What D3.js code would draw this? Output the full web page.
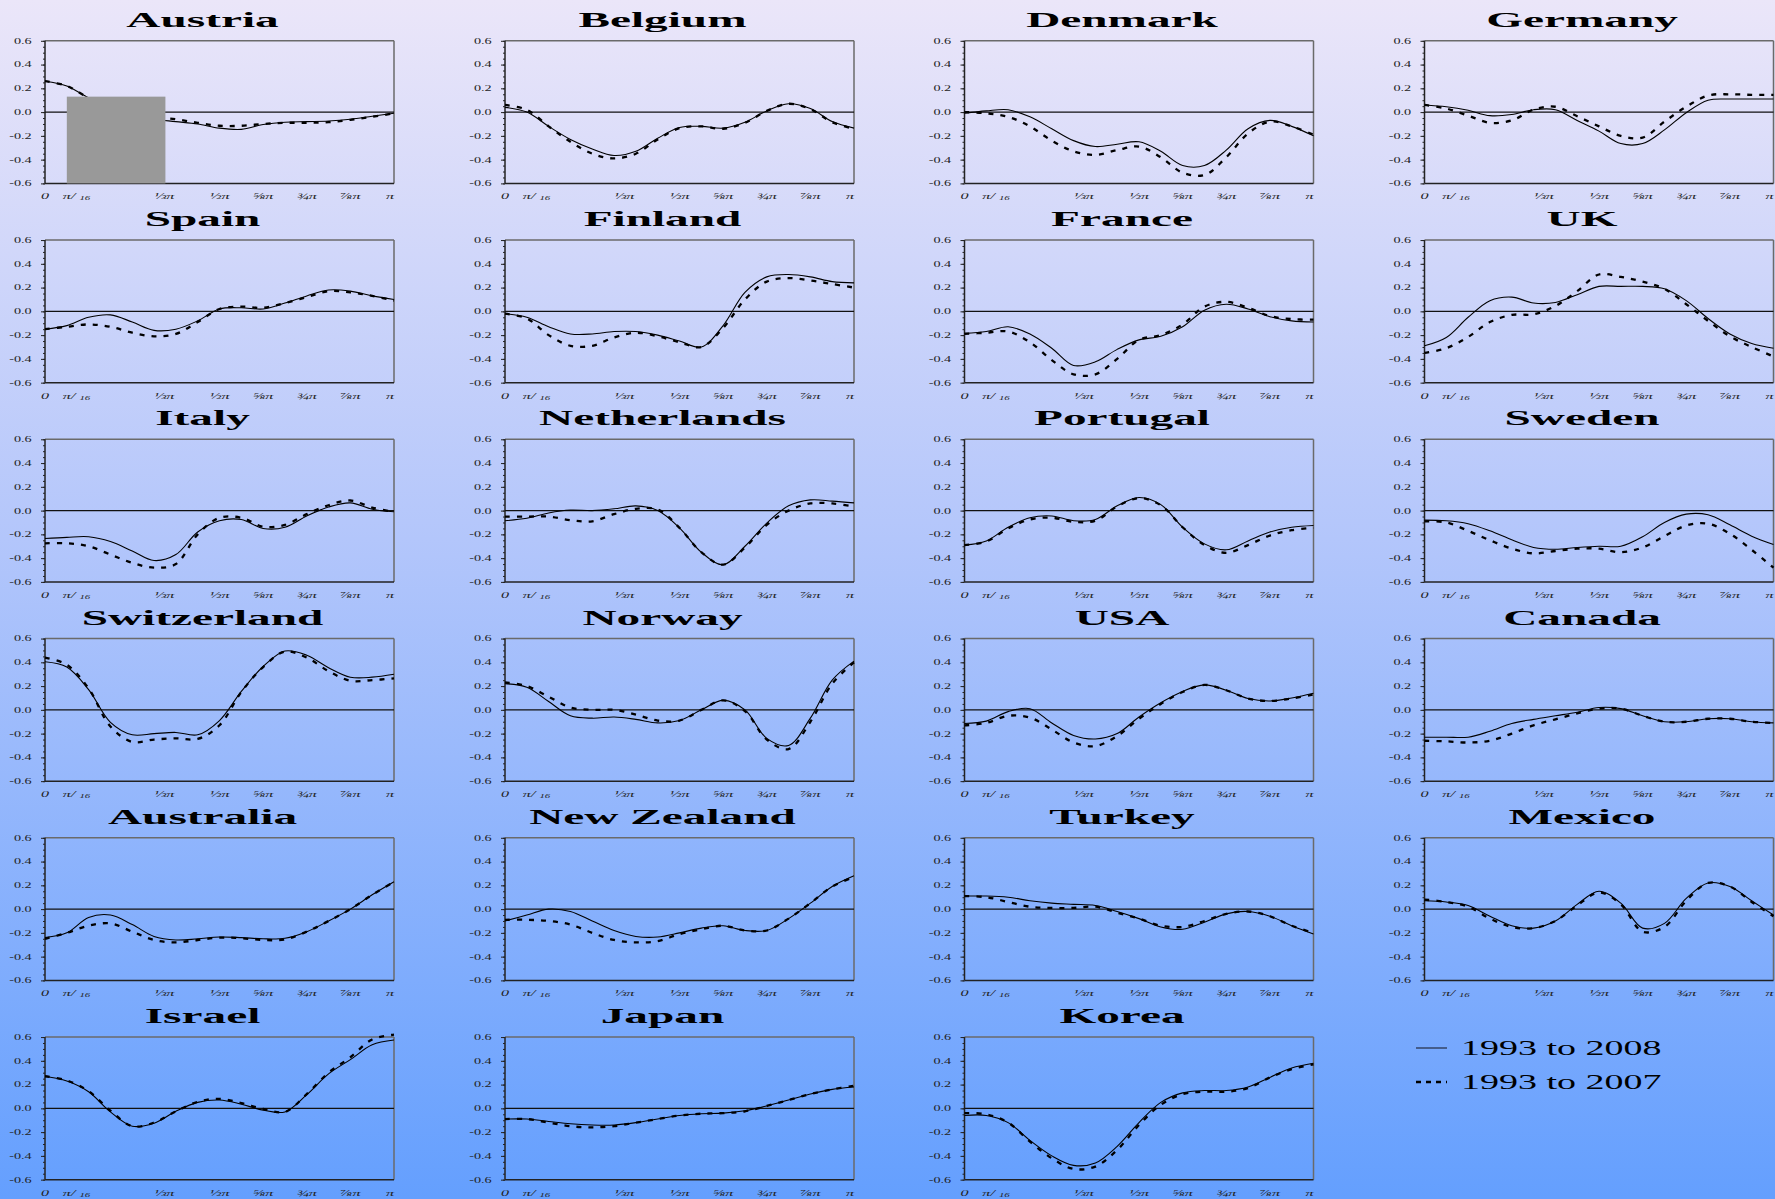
<!DOCTYPE html>
<html>
<head>
<meta charset="utf-8">
<script src="https://cdn.jsdelivr.net/npm/d3@7"></script>
<style>
  html, body { margin: 0; padding: 0; }
  body { width: 1775px; height: 1199px; overflow: hidden; }
  svg { display: block; }
</style>
</head>
<body>
<svg id="chart" width="1775" height="1199"></svg>
<script>
// Frequency grid: fractions of π from 0 to π in steps of π/16
const fracGrid = d3.range(17).map(k => k / 16);

const xTickValues = [0, 1 / 16, 1 / 3, 1 / 2, 5 / 8, 3 / 4, 7 / 8, 1];
const xTickLabels = ["0", "π/16", "⅓π", "½π", "⅝π", "¾π", "⅞π", "π"];
const yTickValues = [-0.6, -0.4, -0.2, 0, 0.2, 0.4, 0.6];
const seriesNames = ["1993 to 2008", "1993 to 2007"];

// Country estimates, one value per grid point (sample ending 2008 / ending 2007)
const austria08 = [0.26, 0.22, 0.12, 0.04, -0.02, -0.06, -0.08, -0.1, -0.135, -0.145, -0.105, -0.085, -0.08, -0.075, -0.06, -0.035, -0.01];
const austria07 = [0.26, 0.22, 0.12, 0.04, -0.01, -0.04, -0.06, -0.09, -0.115, -0.115, -0.1, -0.09, -0.09, -0.085, -0.065, -0.04, -0.01];
const belgium08 = [0.04, 0.0, -0.12, -0.23, -0.31, -0.365, -0.33, -0.22, -0.13, -0.12, -0.135, -0.085, 0.01, 0.07, 0.03, -0.08, -0.135];
const belgium07 = [0.06, 0.02, -0.12, -0.25, -0.35, -0.39, -0.35, -0.23, -0.135, -0.12, -0.14, -0.09, 0.01, 0.07, 0.025, -0.085, -0.14];
const denmark08 = [-0.01, 0.01, 0.02, -0.04, -0.14, -0.24, -0.29, -0.27, -0.25, -0.33, -0.45, -0.45, -0.32, -0.14, -0.07, -0.12, -0.2];
const denmark07 = [0.0, -0.01, -0.04, -0.12, -0.24, -0.33, -0.36, -0.32, -0.29, -0.38, -0.51, -0.53, -0.38, -0.18, -0.08, -0.12, -0.19];
const germany08 = [0.06, 0.045, 0.015, -0.03, -0.02, 0.02, 0.02, -0.07, -0.16, -0.265, -0.265, -0.15, -0.005, 0.1, 0.11, 0.11, 0.11];
const germany07 = [0.06, 0.03, -0.03, -0.09, -0.07, 0.02, 0.045, -0.035, -0.12, -0.2, -0.215, -0.08, 0.045, 0.14, 0.15, 0.145, 0.145];
const spain08 = [-0.15, -0.12, -0.05, -0.03, -0.09, -0.16, -0.15, -0.08, 0.02, 0.03, 0.02, 0.07, 0.13, 0.18, 0.17, 0.13, 0.1];
const spain07 = [-0.15, -0.13, -0.11, -0.13, -0.18, -0.21, -0.19, -0.09, 0.02, 0.04, 0.03, 0.07, 0.12, 0.17, 0.16, 0.13, 0.09];
const finland08 = [-0.02, -0.05, -0.13, -0.19, -0.19, -0.17, -0.17, -0.2, -0.25, -0.3, -0.12, 0.16, 0.29, 0.31, 0.29, 0.25, 0.24];
const finland07 = [-0.02, -0.06, -0.2, -0.29, -0.29, -0.22, -0.18, -0.21, -0.26, -0.3, -0.14, 0.1, 0.25, 0.28, 0.26, 0.23, 0.2];
const france08 = [-0.185, -0.17, -0.13, -0.19, -0.31, -0.455, -0.425, -0.32, -0.24, -0.21, -0.13, 0.01, 0.06, 0.02, -0.045, -0.08, -0.09];
const france07 = [-0.19, -0.18, -0.17, -0.26, -0.41, -0.53, -0.53, -0.4, -0.24, -0.2, -0.11, 0.04, 0.08, 0.03, -0.04, -0.065, -0.07];
const uk08 = [-0.29, -0.22, -0.05, 0.09, 0.12, 0.07, 0.075, 0.14, 0.21, 0.21, 0.21, 0.19, 0.09, -0.06, -0.19, -0.27, -0.31];
const uk07 = [-0.35, -0.31, -0.215, -0.09, -0.03, -0.025, 0.045, 0.17, 0.31, 0.29, 0.25, 0.19, 0.06, -0.08, -0.21, -0.3, -0.38];
const italy08 = [-0.235, -0.225, -0.22, -0.26, -0.34, -0.42, -0.37, -0.18, -0.085, -0.075, -0.15, -0.14, -0.045, 0.03, 0.065, 0.012, -0.01];
const italy07 = [-0.275, -0.275, -0.3, -0.37, -0.44, -0.48, -0.45, -0.2, -0.06, -0.06, -0.135, -0.12, -0.03, 0.045, 0.085, 0.025, -0.01];
const netherlands08 = [-0.085, -0.065, -0.02, 0.005, 0.0, 0.015, 0.04, 0.0, -0.145, -0.35, -0.455, -0.3, -0.105, 0.04, 0.09, 0.08, 0.065];
const netherlands07 = [-0.05, -0.05, -0.05, -0.08, -0.09, -0.03, 0.015, 0.01, -0.145, -0.35, -0.455, -0.31, -0.12, 0.0, 0.06, 0.06, 0.035];
const portugal08 = [-0.29, -0.255, -0.14, -0.06, -0.045, -0.085, -0.075, 0.04, 0.11, 0.05, -0.14, -0.28, -0.33, -0.255, -0.18, -0.14, -0.125];
const portugal07 = [-0.29, -0.26, -0.15, -0.075, -0.06, -0.095, -0.085, 0.035, 0.105, 0.045, -0.14, -0.29, -0.355, -0.29, -0.21, -0.165, -0.145];
const sweden08 = [-0.08, -0.085, -0.11, -0.17, -0.245, -0.31, -0.325, -0.31, -0.3, -0.3, -0.22, -0.1, -0.03, -0.035, -0.12, -0.215, -0.285];
const sweden07 = [-0.09, -0.1, -0.17, -0.25, -0.32, -0.36, -0.34, -0.32, -0.32, -0.35, -0.31, -0.215, -0.125, -0.11, -0.195, -0.33, -0.48];
const switzerland08 = [0.405, 0.36, 0.17, -0.105, -0.21, -0.2, -0.19, -0.21, -0.09, 0.155, 0.365, 0.495, 0.46, 0.355, 0.275, 0.275, 0.3];
const switzerland07 = [0.44, 0.38, 0.18, -0.14, -0.27, -0.25, -0.24, -0.245, -0.13, 0.15, 0.36, 0.49, 0.44, 0.325, 0.245, 0.25, 0.265];
const norway08 = [0.22, 0.19, 0.07, -0.05, -0.07, -0.06, -0.08, -0.11, -0.09, 0.0, 0.08, 0.0, -0.24, -0.3, -0.07, 0.25, 0.41];
const norway07 = [0.23, 0.2, 0.11, 0.02, 0.0, 0.0, -0.04, -0.09, -0.09, 0.0, 0.08, -0.01, -0.25, -0.33, -0.1, 0.22, 0.4];
const usa08 = [-0.115, -0.095, -0.015, 0.01, -0.11, -0.215, -0.245, -0.2, -0.06, 0.06, 0.155, 0.21, 0.165, 0.095, 0.075, 0.1, 0.14];
const usa07 = [-0.13, -0.11, -0.05, -0.065, -0.165, -0.275, -0.305, -0.22, -0.075, 0.05, 0.15, 0.21, 0.165, 0.095, 0.075, 0.095, 0.13];
const canada08 = [-0.23, -0.23, -0.23, -0.18, -0.115, -0.08, -0.05, -0.02, 0.02, 0.01, -0.05, -0.1, -0.1, -0.075, -0.075, -0.1, -0.11];
const canada07 = [-0.26, -0.265, -0.275, -0.26, -0.2, -0.13, -0.08, -0.03, 0.01, 0.01, -0.05, -0.1, -0.1, -0.075, -0.075, -0.1, -0.11];
const australia08 = [-0.24, -0.2, -0.07, -0.05, -0.13, -0.23, -0.26, -0.25, -0.235, -0.24, -0.25, -0.245, -0.19, -0.1, 0.0, 0.12, 0.23];
const australia07 = [-0.25, -0.2, -0.14, -0.12, -0.19, -0.26, -0.28, -0.26, -0.24, -0.245, -0.26, -0.255, -0.19, -0.1, 0.0, 0.12, 0.23];
const newZealand08 = [-0.1, -0.05, 0.0, -0.02, -0.1, -0.18, -0.23, -0.235, -0.2, -0.16, -0.14, -0.18, -0.18, -0.08, 0.05, 0.19, 0.28];
const newZealand07 = [-0.09, -0.09, -0.1, -0.13, -0.2, -0.26, -0.28, -0.27, -0.21, -0.17, -0.14, -0.18, -0.18, -0.08, 0.05, 0.19, 0.27];
const turkey08 = [0.11, 0.11, 0.1, 0.07, 0.05, 0.04, 0.03, -0.02, -0.08, -0.15, -0.17, -0.11, -0.04, -0.02, -0.06, -0.14, -0.21];
const turkey07 = [0.11, 0.1, 0.06, 0.02, 0.01, 0.01, 0.02, -0.03, -0.08, -0.14, -0.15, -0.1, -0.04, -0.02, -0.06, -0.14, -0.2];
const mexico08 = [0.07, 0.06, 0.03, -0.06, -0.14, -0.16, -0.1, 0.04, 0.15, 0.05, -0.16, -0.12, 0.09, 0.22, 0.19, 0.07, -0.05];
const mexico07 = [0.08, 0.06, 0.02, -0.08, -0.15, -0.16, -0.1, 0.03, 0.14, 0.04, -0.19, -0.15, 0.07, 0.22, 0.19, 0.06, -0.06];
const israel08 = [0.27, 0.23, 0.14, -0.03, -0.15, -0.125, -0.025, 0.05, 0.07, 0.035, -0.015, -0.03, 0.115, 0.29, 0.41, 0.535, 0.575];
const israel07 = [0.27, 0.235, 0.145, -0.02, -0.15, -0.12, -0.025, 0.055, 0.08, 0.045, -0.005, -0.03, 0.12, 0.3, 0.43, 0.58, 0.62];
const japan08 = [-0.09, -0.09, -0.11, -0.13, -0.14, -0.14, -0.12, -0.09, -0.06, -0.045, -0.04, -0.02, 0.02, 0.07, 0.12, 0.16, 0.18];
const japan07 = [-0.09, -0.09, -0.12, -0.15, -0.16, -0.15, -0.12, -0.09, -0.06, -0.045, -0.04, -0.025, 0.02, 0.07, 0.12, 0.16, 0.19];
const korea08 = [-0.06, -0.06, -0.12, -0.27, -0.4, -0.48, -0.46, -0.32, -0.12, 0.05, 0.13, 0.15, 0.15, 0.18, 0.26, 0.34, 0.38];
const korea07 = [-0.04, -0.05, -0.12, -0.28, -0.42, -0.51, -0.49, -0.35, -0.14, 0.03, 0.12, 0.14, 0.14, 0.17, 0.26, 0.33, 0.37];

// Grey block over part of the Austria panel (frequency span and top value)
const austriaBlock = { from: 1 / 16, to: 0.345, top: 0.13 };

const panels = [
  { name: "Austria", s08: austria08, s07: austria07, block: austriaBlock },
  { name: "Belgium", s08: belgium08, s07: belgium07 },
  { name: "Denmark", s08: denmark08, s07: denmark07 },
  { name: "Germany", s08: germany08, s07: germany07 },
  { name: "Spain", s08: spain08, s07: spain07 },
  { name: "Finland", s08: finland08, s07: finland07 },
  { name: "France", s08: france08, s07: france07 },
  { name: "UK", s08: uk08, s07: uk07 },
  { name: "Italy", s08: italy08, s07: italy07 },
  { name: "Netherlands", s08: netherlands08, s07: netherlands07 },
  { name: "Portugal", s08: portugal08, s07: portugal07 },
  { name: "Sweden", s08: sweden08, s07: sweden07 },
  { name: "Switzerland", s08: switzerland08, s07: switzerland07 },
  { name: "Norway", s08: norway08, s07: norway07 },
  { name: "USA", s08: usa08, s07: usa07 },
  { name: "Canada", s08: canada08, s07: canada07 },
  { name: "Australia", s08: australia08, s07: australia07 },
  { name: "New Zealand", s08: newZealand08, s07: newZealand07 },
  { name: "Turkey", s08: turkey08, s07: turkey07 },
  { name: "Mexico", s08: mexico08, s07: mexico07 },
  { name: "Israel", s08: israel08, s07: israel07 },
  { name: "Japan", s08: japan08, s07: japan07 },
  { name: "Korea", s08: korea08, s07: korea07 }
];

// ---------------------------------------------------------------- layout
const W = 1775, H = 1199;
const colX = [45, 505, 964.5, 1424.5];
const rowY0 = 40.8, rowStep = 199.25;
const plotW = 349, plotH = 142.6;
const SERIF = "'Liberation Serif', 'Times New Roman', 'DejaVu Serif', serif";

const svg = d3.select("#chart");

// page background: lavender at the top fading to blue at the bottom
const defs = svg.append("defs");
const grad = defs.append("linearGradient")
  .attr("id", "bg").attr("x1", 0).attr("y1", 0).attr("x2", 0).attr("y2", 1);
grad.append("stop").attr("offset", "0%").attr("stop-color", "#ebe6f9");
grad.append("stop").attr("offset", "45%").attr("stop-color", "#b3c6fb");
grad.append("stop").attr("offset", "100%").attr("stop-color", "#649ffe");
svg.append("rect").attr("width", W).attr("height", H).attr("fill", "url(#bg)");

const x = d3.scaleLinear().domain([0, 1]).range([0, plotW]);
const y = d3.scaleLinear().domain([-0.6, 0.6]).range([plotH, 0]);

const line = d3.line()
  .x((d, i) => x(fracGrid[i]))
  .y(d => y(d))
  .curve(d3.curveCatmullRom.alpha(0.5));

const yAxisMajor = d3.axisLeft(y)
  .tickValues(yTickValues)
  .tickSize(4)
  .tickPadding(3)
  .tickFormat(d => d.toFixed(1));
const yAxisMinor = d3.axisLeft(y)
  .tickValues(d3.range(-12, 13).map(k => k * 0.05))
  .tickSize(2)
  .tickFormat("");

panels.forEach((p, i) => {
  const col = i % 4, row = Math.floor(i / 4);
  const g = svg.append("g")
    .attr("transform", `translate(${colX[col]},${rowY0 + row * rowStep})`);

  // title
  g.append("text")
    .attr("transform", `translate(${plotW / 2 - 17},-14) scale(2.15,1)`)
    .attr("text-anchor", "middle")
    .attr("font-family", SERIF)
    .attr("font-weight", "bold")
    .attr("font-size", 22)
    .attr("fill", "#000")
    .text(p.name);

  // y axis ticks and labels
  const gMinor = g.append("g").call(yAxisMinor);
  gMinor.select(".domain").remove();
  gMinor.selectAll("line").attr("stroke", "#222");
  const gMajor = g.append("g").call(yAxisMajor)
    .attr("font-family", SERIF).attr("font-size", 7.5);
  gMajor.select(".domain").remove();
  gMajor.selectAll("line").attr("stroke", "#222");
  gMajor.selectAll("text").attr("fill", "#222").attr("transform", "scale(1.9,1)");

  // x labels
  xTickValues.forEach((v, j) => {
    let px = x(v), anchor = "middle";
    if (j === 1) { px = x(v) - 4; anchor = "start"; }
    if (j === 2) { px = x(v) + 3; }
    if (j === 7) { px = x(v) - 4; }
    const t = g.append("text")
      .attr("transform", `translate(${px},${plotH + 16}) scale(1.8,1)`)
      .attr("text-anchor", anchor)
      .attr("font-family", SERIF)
      .attr("font-style", "italic")
      .attr("font-size", 9)
      .attr("fill", "#222");
    if (j === 1) {
      t.append("tspan").text("π/ ");
      t.append("tspan").attr("font-size", 6).attr("dy", 1).text("16");
    } else {
      t.text(xTickLabels[j]);
    }
  });

  // frame: light top/right, dark left/bottom
  g.append("line").attr("x1", 0).attr("x2", plotW).attr("y1", 0).attr("y2", 0)
    .attr("stroke", "#6a6a6a").attr("stroke-width", 1.5);
  g.append("line").attr("x1", plotW).attr("x2", plotW).attr("y1", 0).attr("y2", plotH)
    .attr("stroke", "#6a6a6a").attr("stroke-width", 1.5);
  g.append("line").attr("x1", 0).attr("x2", plotW).attr("y1", plotH).attr("y2", plotH)
    .attr("stroke", "#222").attr("stroke-width", 1.5);
  g.append("line").attr("x1", 0).attr("x2", 0).attr("y1", 0).attr("y2", plotH)
    .attr("stroke", "#222").attr("stroke-width", 1.5);

  // zero line
  g.append("line").attr("x1", 0).attr("x2", plotW).attr("y1", y(0)).attr("y2", y(0))
    .attr("stroke", "#111").attr("stroke-width", 1.2);

  // series
  g.append("path").datum(p.s07).attr("d", line)
    .attr("fill", "none").attr("stroke", "#000")
    .attr("stroke-width", 2.3).attr("stroke-dasharray", "5,7");
  g.append("path").datum(p.s08).attr("d", line)
    .attr("fill", "none").attr("stroke", "#000").attr("stroke-width", 1.1);

  if (p.block) {
    g.append("rect")
      .attr("x", x(p.block.from))
      .attr("y", y(p.block.top))
      .attr("width", x(p.block.to) - x(p.block.from))
      .attr("height", y(-0.6) - y(p.block.top))
      .attr("fill", "#999999");
  }
});

// legend
const legend = svg.append("g").attr("transform", "translate(1416,1048)");
seriesNames.forEach((name, i) => {
  const gy = i * 34;
  legend.append("line")
    .attr("x1", 0).attr("x2", 31).attr("y1", gy).attr("y2", gy)
    .attr("stroke", i === 0 ? "#2a3550" : "#000")
    .attr("stroke-width", i === 0 ? 1.3 : 2.3)
    .attr("stroke-dasharray", i === 0 ? null : "5,5");
  legend.append("text")
    .attr("transform", `translate(45,${gy + 7}) scale(1.9,1)`)
    .attr("font-family", SERIF)
    .attr("font-size", 20)
    .attr("fill", "#000")
    .text(name);
});
</script>
</body>
</html>
